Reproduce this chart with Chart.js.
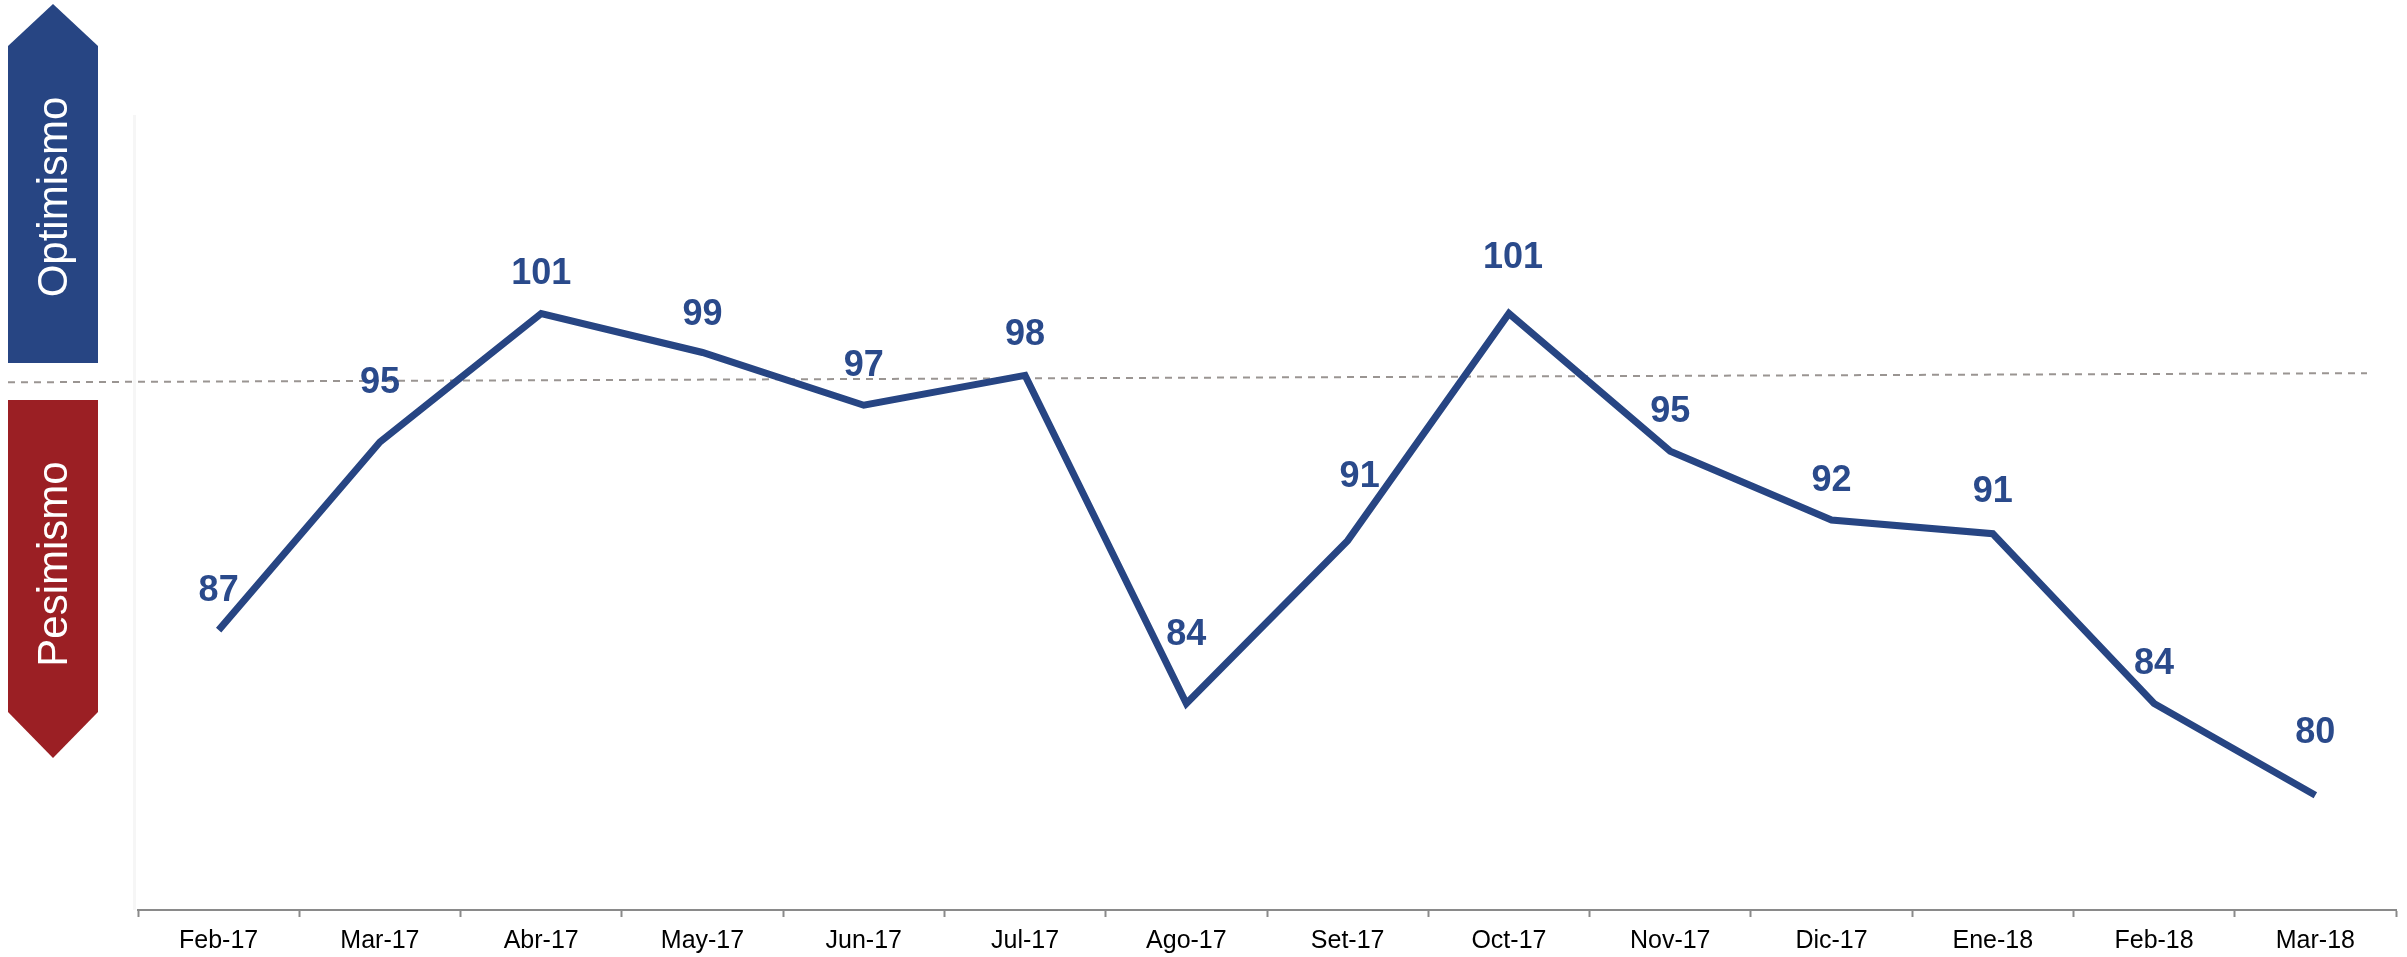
<!DOCTYPE html>
<html>
<head>
<meta charset="utf-8">
<script src="https://cdn.jsdelivr.net/npm/chart.js@4.4.1/dist/chart.umd.min.js"></script>
<style>
  html, body { margin: 0; padding: 0; background: #ffffff; }
  #wrap { width: 2407px; height: 957px; }
</style>
</head>
<body>
<div id="wrap"><canvas id="c" width="2407" height="957"></canvas></div>
<script>
// ---- data ----
const months = ['Feb-17','Mar-17','Abr-17','May-17','Jun-17','Jul-17','Ago-17','Set-17','Oct-17','Nov-17','Dic-17','Ene-18','Feb-18','Mar-18'];
const indexValues = [87.2, 95.4, 101, 99.3, 97.0, 98.3, 84.0, 91.1, 101, 95.0, 92.0, 91.4, 84.0, 80.0];
const valueLabels = ['87','95','101','99','97','98','84','91','101','95','92','91','84','80'];
const yRange = [75, 110];
const neutralLine = [98.0, 98.4];   // dashed reference line, value at left and right end
const zoneLabels = ['Optimismo', 'Pesimismo'];

// ---- label placement (style, not data) ----
const labelLift = [39, 59, 39, 37, 39, 40, 68, 64, 55, 39, 39, 42, 39, 62];
const labelShift = [0, 0, 0, 0, 0, 0, 0, 12, 4, 0, 0, 0, 0, 0];

const FONT = "'Liberation Sans', Arial, Helvetica, sans-serif";
const BLUE = '#274583';
const RED = '#9b1f24';

const decorPlugin = {
  id: 'decor',
  beforeDatasetsDraw(chart) {
    const ctx = chart.ctx;
    const y = chart.scales.y;
    const ca = chart.chartArea;
    // faint y-axis edge
    ctx.save();
    ctx.fillStyle = '#f6f6f6';
    ctx.fillRect(ca.left - 5, ca.top + 8, 3, ca.bottom - ca.top - 8);
    // dashed neutral line
    ctx.strokeStyle = '#9a9592';
    ctx.lineWidth = 2;
    ctx.setLineDash([7, 6]);
    ctx.beginPath();
    ctx.moveTo(8, y.getPixelForValue(neutralLine[0]));
    ctx.lineTo(ca.right - 29, y.getPixelForValue(neutralLine[1]));
    ctx.stroke();
    ctx.restore();
  },
  afterDraw(chart) {
    const ctx = chart.ctx;
    ctx.save();
    // blue up arrow
    ctx.fillStyle = BLUE;
    ctx.beginPath();
    ctx.moveTo(53, 4); ctx.lineTo(98, 46); ctx.lineTo(98, 363); ctx.lineTo(8, 363); ctx.lineTo(8, 46);
    ctx.closePath(); ctx.fill();
    // red down arrow
    ctx.fillStyle = RED;
    ctx.beginPath();
    ctx.moveTo(8, 400); ctx.lineTo(98, 400); ctx.lineTo(98, 712); ctx.lineTo(53, 758); ctx.lineTo(8, 712);
    ctx.closePath(); ctx.fill();
    // texts
    ctx.fillStyle = '#ffffff';
    ctx.font = '42px ' + FONT;
    ctx.textAlign = 'center';
    ctx.textBaseline = 'middle';
    ctx.save();
    ctx.translate(55, 197); ctx.rotate(-Math.PI / 2);
    ctx.fillText(zoneLabels[0], 0, 0);
    ctx.restore();
    ctx.save();
    ctx.translate(55, 564); ctx.rotate(-Math.PI / 2);
    ctx.fillText(zoneLabels[1], 0, 0);
    ctx.restore();
    ctx.restore();
  },
  afterDatasetsDraw(chart) {
    const ctx = chart.ctx;
    const meta = chart.getDatasetMeta(0);
    ctx.save();
    ctx.fillStyle = '#2a4a8b';
    ctx.font = 'bold 36px ' + FONT;
    ctx.textAlign = 'center';
    ctx.textBaseline = 'middle';
    meta.data.forEach((pt, i) => {
      ctx.fillText(valueLabels[i], pt.x + labelShift[i], pt.y - labelLift[i]);
    });
    ctx.restore();
  }
};

new Chart(document.getElementById('c'), {
  type: 'line',
  data: {
    labels: months,
    datasets: [{
      data: indexValues,
      borderColor: BLUE,
      borderWidth: 7,
      pointRadius: 0,
      tension: 0,
      fill: false,
      borderJoinStyle: 'miter',
      borderCapStyle: 'butt'
    }]
  },
  options: {
    responsive: false,
    devicePixelRatio: 1,
    animation: false,
    layout: { padding: { left: 138, right: 11, top: 107, bottom: 0 } },
    plugins: { legend: { display: false }, tooltip: { enabled: false }, title: { display: false } },
    scales: {
      y: { display: false, min: yRange[0], max: yRange[1] },
      x: {
        offset: true,
        afterFit: (s) => { s.height = 47; },
        grid: { offset: true, drawOnChartArea: false, drawTicks: true, tickLength: 7, tickColor: '#8a8a8a', tickWidth: 2 },
        border: { display: true, color: '#8a8a8a', width: 2 },
        ticks: { color: '#000000', font: { size: 25, family: FONT }, padding: 9, maxRotation: 0, autoSkip: false }
      }
    }
  },
  plugins: [decorPlugin]
});
</script>
</body>
</html>
